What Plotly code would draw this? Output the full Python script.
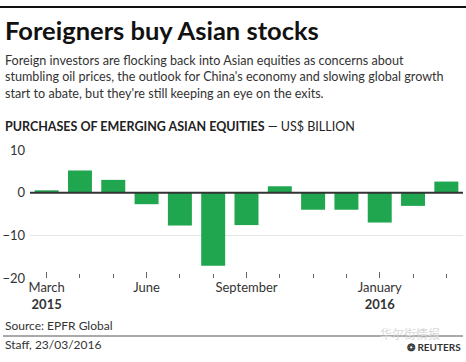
import plotly.graph_objects as go

months = ["Mar 2015", "Apr 2015", "May 2015", "Jun 2015", "Jul 2015", "Aug 2015",
          "Sep 2015", "Oct 2015", "Nov 2015", "Dec 2015", "Jan 2016", "Feb 2016", "Mar 2016"]
purchases = [0.55, 5.2, 3.0, -2.7, -7.7, -17.1, -7.6, 1.5, -4.0, -4.0, -7.0, -3.1, 2.6]
tick_pos = [0, 3, 6, 10]
tick_labels = ["March<br><b>2015</b>", "June", "September", "January<br><b>2016</b>"]
y_ticks = [-20, -10, 0, 10]

W, H = 466, 362
L, R, T, B = 30, 3, 150, 84
PW, PH = W - L - R, H - T - B
FONT = "Lato"
DARK = "#222222"
GREEN = "#1fa64f"

def px(x):
    return (x - L) / PW

def py(y):
    return (H - B - y) / PH

x_idx = list(range(len(months)))

fig = go.Figure()
fig.add_trace(go.Bar(x=x_idx, y=purchases, marker=dict(color=GREEN, line=dict(width=0)),
                     hovertext=months, showlegend=False))

fig.update_layout(
    width=W, height=H,
    margin=dict(l=L, r=R, t=T, b=B),
    paper_bgcolor="white", plot_bgcolor="white",
    bargap=0.28,
    font=dict(family=FONT, size=13, color="#333333"),
    xaxis=dict(range=[-0.5, 12.5], tickmode="array", tickvals=tick_pos, ticktext=tick_labels,
               ticks="inside", ticklen=6, tickcolor="#666666", tickwidth=1,
               showgrid=False, zeroline=False, showline=False,
               tickfont=dict(size=13, color="#333333"),
               minor=dict(tickmode="linear", tick0=0, dtick=1, ticks="inside", ticklen=4,
                          tickcolor="#666666", tickwidth=1, showgrid=False)),
    yaxis=dict(range=[-20, 10], tickmode="array", tickvals=y_ticks,
               showgrid=True, gridcolor="#e6e6e6", gridwidth=1, zeroline=False,
               showline=False, ticks="", ticklabelstandoff=4,
               tickfont=dict(size=13, color="#333333")),
)

# zero line above bars
fig.add_shape(type="line", xref="paper", yref="y", x0=0, x1=1, y0=0, y1=0,
              line=dict(color="#333333", width=2), layer="above")

# footer rule
fig.add_shape(type="line", xref="paper", yref="paper", x0=px(3), x1=px(463), y0=py(336), y1=py(336),
              line=dict(color="#555555", width=1))
# top rule
fig.add_shape(type="rect", xref="paper", yref="paper", x0=px(0), x1=px(466), y0=py(8), y1=py(6),
              fillcolor="#111111", line=dict(width=0), layer="below")

def text(s, x, y, size, color=DARK, anchor="left", yanchor="middle", family=FONT):
    fig.add_annotation(text=s, xref="paper", yref="paper", x=px(x), y=py(y),
                       xanchor=anchor, yanchor=yanchor, showarrow=False,
                       font=dict(size=size, color=color, family=family), align="left")

text("<b>Foreigners buy Asian stocks</b>", 3, 30, 25.5, color="#111111")
text("Foreign investors are flocking back into Asian equities as concerns about<br>"
     "stumbling oil prices, the outlook for China's economy and slowing global growth<br>"
     "start to abate, but they're still keeping an eye on the exits.",
     3, 77, 12.6, color="#333333")
text("<b>PURCHASES OF EMERGING ASIAN EQUITIES</b> — US$ BILLION", 3, 126, 12.5, color="#222222")
text("Source: EPFR Global", 3, 325, 12, color="#333333")
text("Staff, 23/03/2016", 3, 344, 12, color="#333333")
text("华尔街情报", 378, 333, 12, color="#d8d8d8", family="Noto Sans CJK SC")
text("<b>❂ REUTERS</b>", 463, 347, 10, color="#333333", anchor="right")

fig.write_html("out.html", config={"displayModeBar": False},
               post_script="document.body.style.margin='0';document.body.style.padding='0';")
